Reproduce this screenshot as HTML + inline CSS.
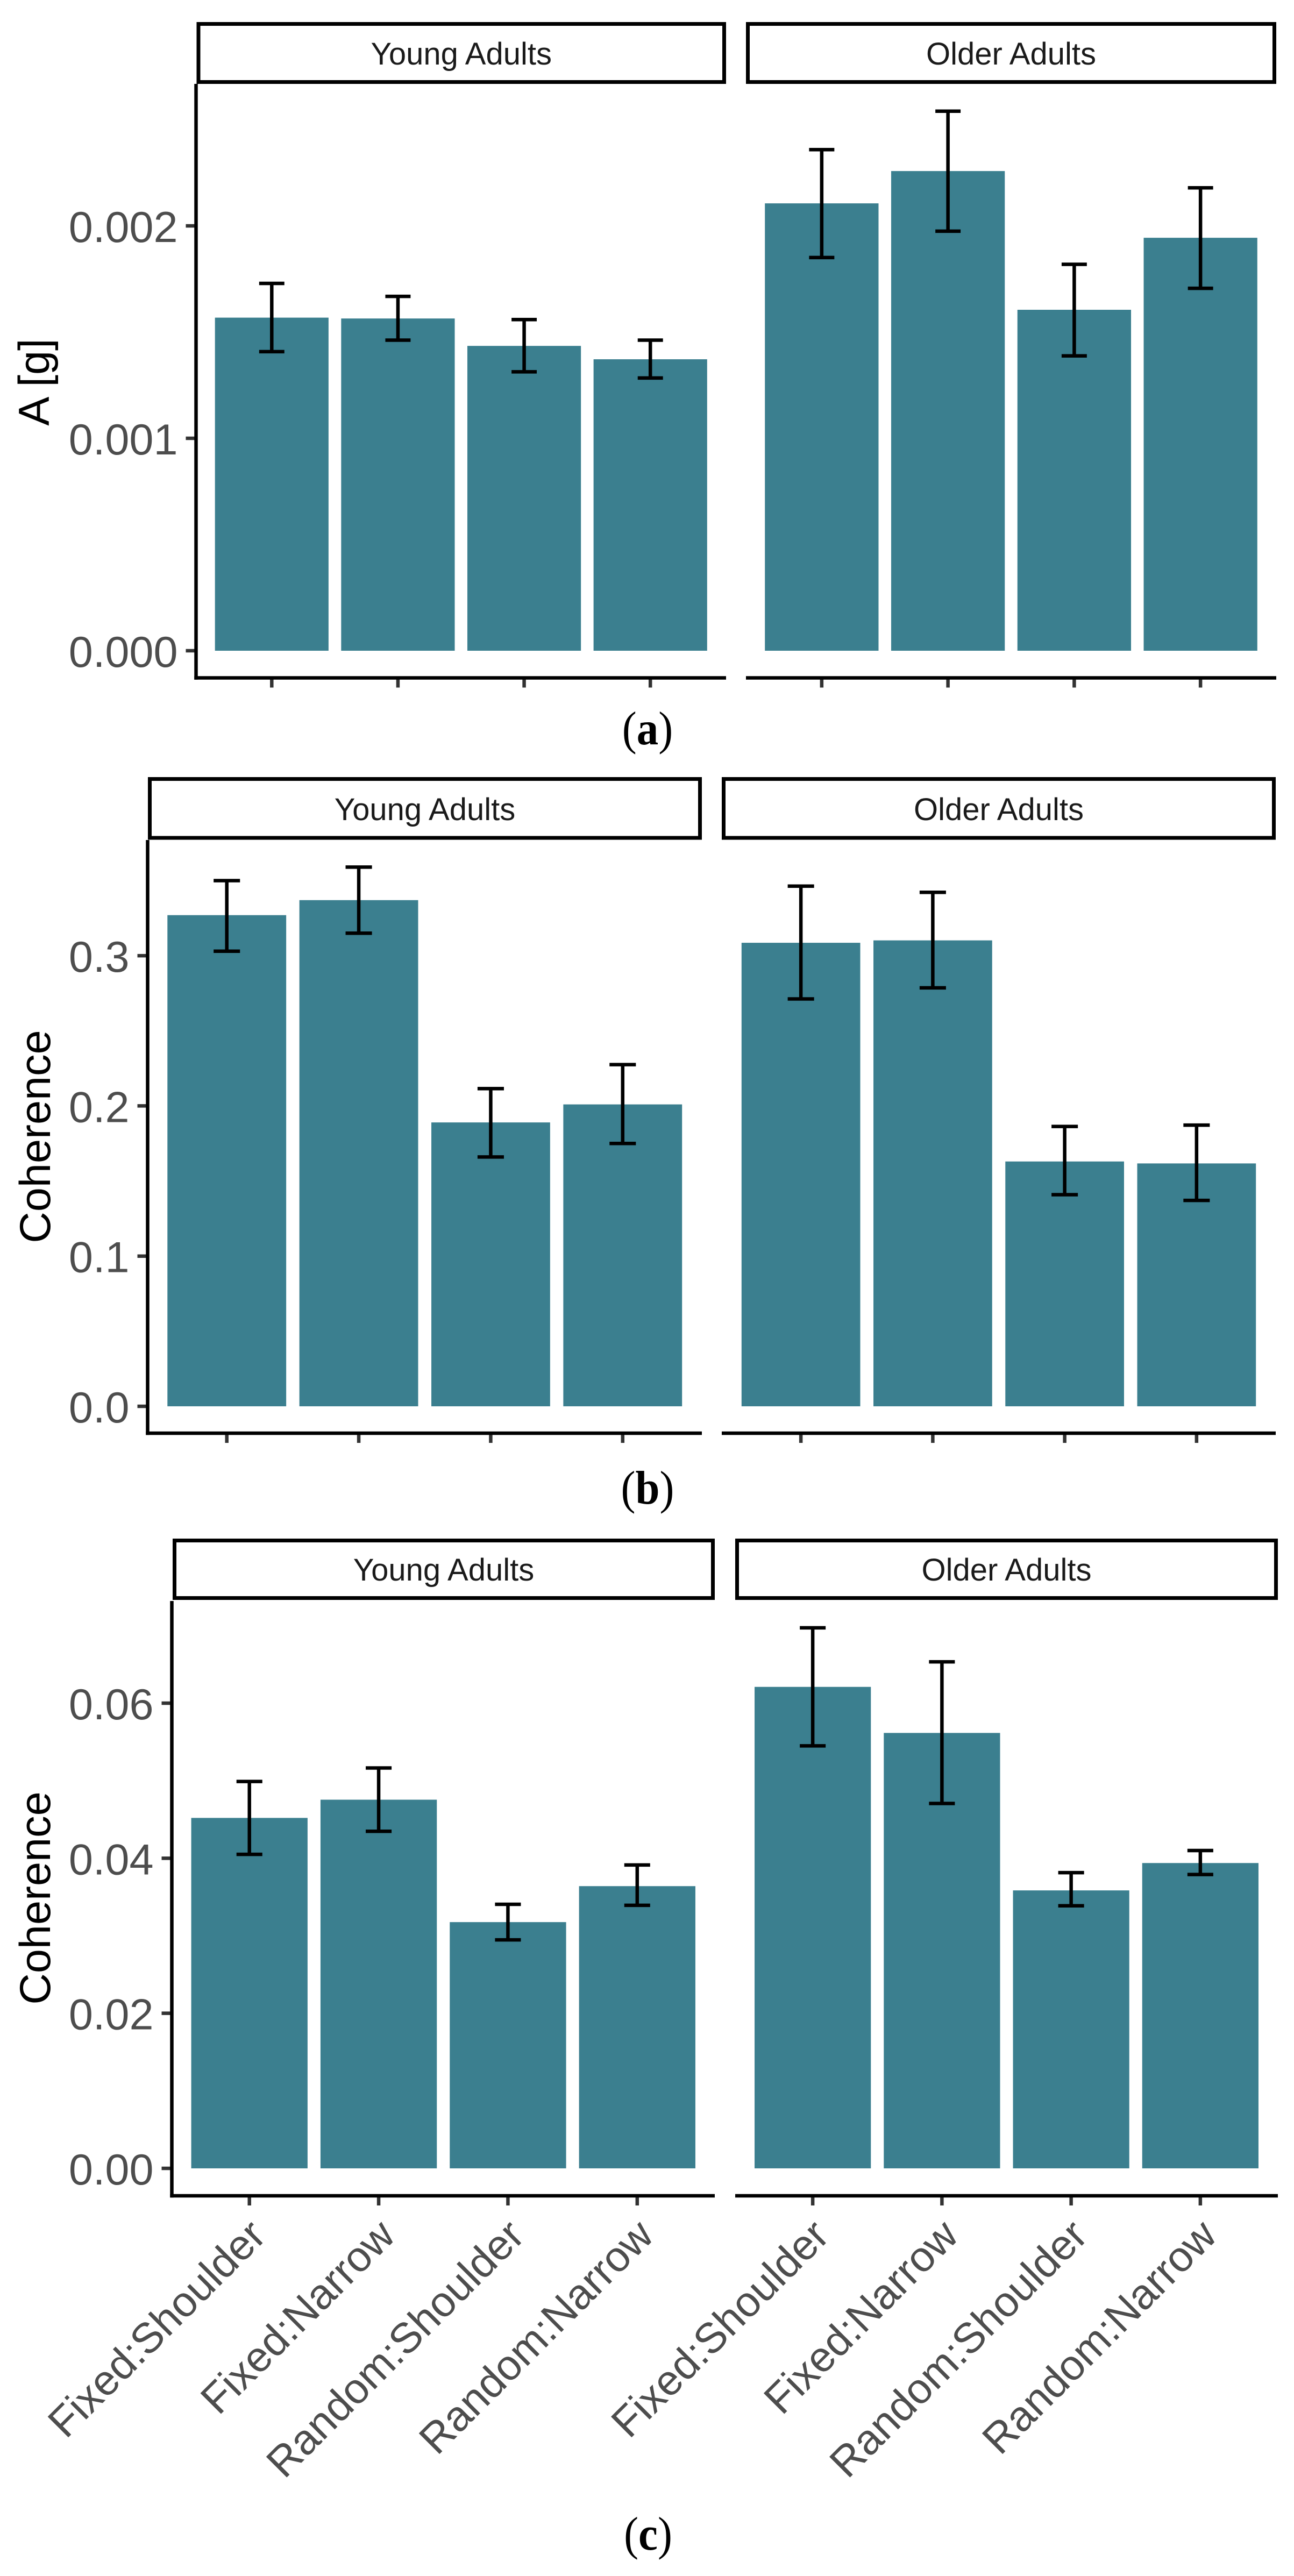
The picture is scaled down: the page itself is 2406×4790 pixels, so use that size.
<!DOCTYPE html>
<html lang="en">
<head>
<meta charset="utf-8">
<title>Bar charts of A [g] and Coherence by condition</title>
<style>
html,body{margin:0;padding:0;background:#fff;}
svg{display:block;}
text{font-family:"Liberation Sans",sans-serif;}
.caption{font-family:"Liberation Serif",serif;}
</style>
</head>
<body>
<svg id="figure" xmlns="http://www.w3.org/2000/svg" width="2406" height="4790" viewBox="0 0 2406 4790">
<rect x="0" y="0" width="2406" height="4790" fill="#ffffff"/>
</svg>
<script>
// ---- data ----
const categories = ['Fixed:Shoulder', 'Fixed:Narrow', 'Random:Shoulder', 'Random:Narrow'];
const facetNames = ['Young Adults', 'Older Adults'];

// Panel (a)
const aTickValues = [0, 0.001, 0.002];
const aTickLabels = ['0.000', '0.001', '0.002'];
const aYoungMeans = [0.001568, 0.001564, 0.001435, 0.001372];
const aYoungLows  = [0.001408, 0.001462, 0.001313, 0.001284];
const aYoungHighs = [0.001729, 0.001668, 0.001559, 0.001462];
const aOlderMeans = [0.002106, 0.002258, 0.001605, 0.001944];
const aOlderLows  = [0.001851, 0.001975, 0.001388, 0.001706];
const aOlderHighs = [0.002359, 0.002540, 0.001819, 0.002179];

// Panel (b)
const bTickValues = [0, 0.1, 0.2, 0.3];
const bTickLabels = ['0.0', '0.1', '0.2', '0.3'];
const bYoungMeans = [0.327, 0.337, 0.189, 0.201];
const bYoungLows  = [0.303, 0.315, 0.166, 0.175];
const bYoungHighs = [0.350, 0.359, 0.2115, 0.2275];
const bOlderMeans = [0.3086, 0.3102, 0.163, 0.1617];
const bOlderLows  = [0.2712, 0.2786, 0.1409, 0.1371];
const bOlderHighs = [0.3463, 0.3422, 0.1863, 0.1872];

// Panel (c)
const cTickValues = [0, 0.02, 0.04, 0.06];
const cTickLabels = ['0.00', '0.02', '0.04', '0.06'];
const cYoungMeans = [0.0452, 0.04755, 0.03176, 0.0364];
const cYoungLows  = [0.0405, 0.04347, 0.02947, 0.03393];
const cYoungHighs = [0.0499, 0.05164, 0.03406, 0.03913];
const cOlderMeans = [0.0621, 0.05616, 0.03585, 0.03938];
const cOlderLows  = [0.05449, 0.04706, 0.03387, 0.0379];
const cOlderHighs = [0.06972, 0.06533, 0.03814, 0.04099];

// ---- drawing ----
const NS = 'http://www.w3.org/2000/svg';
const svg = document.getElementById('figure');
const BAR = '#3b7f8f';
const AXIS_W = 6.5;
const TICK_W = 6.5;
const ERR_W = 6.5;
const STRIP_W = 7;

function make(tag, props, parent) {
  const el = document.createElementNS(NS, tag);
  for (const k in props) el.setAttribute(k, props[k]);
  (parent || svg).appendChild(el);
  return el;
}

function drawPanel(p) {
  const group = make('g', {});
  
  

  const yScale = v => p.zeroPx - v * p.pxPerUnit;

  // y ticks + labels
  p.tickValues.forEach((v, i) => {
    const tick = make('line', {x1: p.facets[0].left - 19, x2: p.facets[0].left, y1: yScale(v), y2: yScale(v), stroke: '#333333', 'stroke-width': TICK_W}, group);
    
    
    const lab = make('text', {x: p.facets[0].left - 34, y: yScale(v) + 30, 'text-anchor': 'end', 'font-size': 81, fill: '#4d4d4d'}, group);
    lab.textContent = p.tickLabels[i];
    
    
  });

  // y title
  const title = make('text', {transform: 'translate(' + p.titleX + ',' + p.titleY + ') rotate(-90)', 'text-anchor': 'middle', 'font-size': 81, fill: '#000000'}, group);
  title.textContent = p.yTitle;
  
  

  p.facets.forEach((f, fi) => {
    const step = (f.right - f.left) / (categories.length - 1 + 1.2);
    const xScale = i => f.left + step * (0.6 + i);
    const barW = step * 0.9;
    const capW = step * 0.2;

    // strip
    const strip = make('rect', {x: f.stripLeft + STRIP_W / 2, y: p.stripTop + STRIP_W / 2, width: f.stripRight - f.stripLeft - STRIP_W, height: p.stripBottom - p.stripTop - STRIP_W, fill: '#ffffff', stroke: '#000000', 'stroke-width': STRIP_W}, group);
    
    
    const stripText = make('text', {x: (f.stripLeft + f.stripRight) / 2, y: p.stripBaseline, 'text-anchor': 'middle', 'font-size': 58, fill: '#1a1a1a'}, group);
    stripText.textContent = facetNames[fi];
    
    

    categories.forEach((c, i) => {
      const cx = xScale(i);

      const bar = make('rect', {x: cx - barW / 2, y: yScale(f.means[i]), width: barW, height: p.zeroPx - yScale(f.means[i]), fill: BAR}, group);
      
      

      const stem = make('line', {x1: cx, x2: cx, y1: yScale(f.highs[i]), y2: yScale(f.lows[i]), stroke: '#000000', 'stroke-width': ERR_W}, group);
      
      

      const capHigh = make('line', {x1: cx - capW / 2, x2: cx + capW / 2, y1: yScale(f.highs[i]), y2: yScale(f.highs[i]), stroke: '#000000', 'stroke-width': ERR_W}, group);
      
      

      const capLow = make('line', {x1: cx - capW / 2, x2: cx + capW / 2, y1: yScale(f.lows[i]), y2: yScale(f.lows[i]), stroke: '#000000', 'stroke-width': ERR_W}, group);
      
      

      const tick = make('line', {x1: cx, x2: cx, y1: p.bottom, y2: p.bottom + 18, stroke: '#333333', 'stroke-width': TICK_W}, group);
      
      

      if (p.showXLabels) {
        const bx = cx + 34.5, by = p.bottom + 78;
        const lab = make('text', {transform: 'translate(' + bx + ',' + by + ') rotate(-45)', 'text-anchor': 'end', 'font-size': 79, fill: '#4d4d4d'}, group);
        lab.textContent = c;
        
        
      }
    });

    // x axis line
    const xAxis = make('line', {x1: f.left - (fi === 0 ? AXIS_W / 2 : 0), x2: f.right, y1: p.bottom, y2: p.bottom, stroke: '#000000', 'stroke-width': AXIS_W}, group);
    
    
  });

  // y axis line
  const yAxis = make('line', {x1: p.facets[0].left, x2: p.facets[0].left, y1: p.top, y2: p.bottom + AXIS_W / 2, stroke: '#000000', 'stroke-width': AXIS_W}, group);
  
  

  // caption with bold letter
  const cap = make('text', {class: 'caption', transform: 'translate(' + p.captionX + ',' + p.captionY + ') scale(0.92,1)', 'text-anchor': 'middle', 'font-size': 88, fill: '#000000'}, group);
  
  
  const open = make('tspan', {}, cap);
  open.textContent = '(';
  const letter = make('tspan', {'font-weight': 'bold'}, cap);
  letter.textContent = p.letter;
  const close = make('tspan', {}, cap);
  close.textContent = ')';
}

drawPanel({
  letter: 'a', yTitle: 'A [g]', titleX: 91, titleY: 710.5,
  tickValues: aTickValues, tickLabels: aTickLabels,
  zeroPx: 1210, pxPerUnit: 395000, top: 156, bottom: 1260.5,
  stripTop: 41, stripBottom: 156, stripBaseline: 120,
  captionX: 1204, captionY: 1384, showXLabels: false,
  facets: [
    {left: 364.5, right: 1350, stripLeft: 365.5, stripRight: 1350, means: aYoungMeans, lows: aYoungLows, highs: aYoungHighs},
    {left: 1387, right: 2373, stripLeft: 1387, stripRight: 2373, means: aOlderMeans, lows: aOlderLows, highs: aOlderHighs}
  ]
});

drawPanel({
  letter: 'b', yTitle: 'Coherence', titleX: 93, titleY: 2113.5,
  tickValues: bTickValues, tickLabels: bTickLabels,
  zeroPx: 2615, pxPerUnit: 2793, top: 1562, bottom: 2665,
  stripTop: 1445, stripBottom: 1561.5, stripBaseline: 1525,
  captionX: 1204, captionY: 2796, showXLabels: false,
  facets: [
    {left: 274.5, right: 1305, stripLeft: 275, stripRight: 1305, means: bYoungMeans, lows: bYoungLows, highs: bYoungHighs},
    {left: 1342, right: 2372, stripLeft: 1342, stripRight: 2372, means: bOlderMeans, lows: bOlderLows, highs: bOlderHighs}
  ]
});

drawPanel({
  letter: 'c', yTitle: 'Coherence', titleX: 93, titleY: 3529.5,
  tickValues: cTickValues, tickLabels: cTickLabels,
  zeroPx: 4032, pxPerUnit: 14417, top: 2977, bottom: 4083,
  stripTop: 2861, stripBottom: 2975, stripBaseline: 2939,
  captionX: 1205, captionY: 4741, showXLabels: true,
  facets: [
    {left: 319.5, right: 1329, stripLeft: 321, stripRight: 1329, means: cYoungMeans, lows: cYoungLows, highs: cYoungHighs},
    {left: 1367, right: 2376, stripLeft: 1367, stripRight: 2376, means: cOlderMeans, lows: cOlderLows, highs: cOlderHighs}
  ]
});
</script>
</body>
</html>
